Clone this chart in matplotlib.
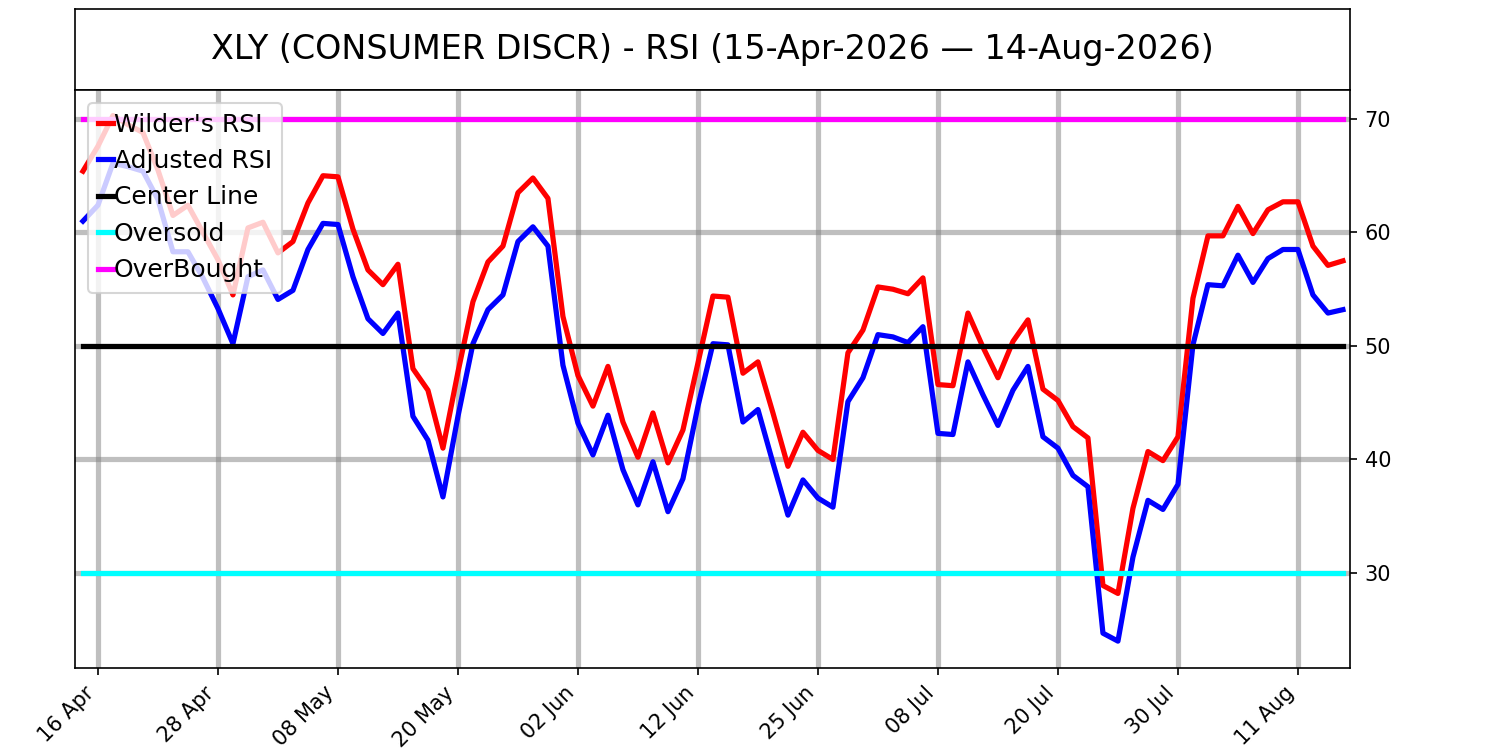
import numpy as np
import pandas as pd
import matplotlib
matplotlib.use("Agg")
import matplotlib.pyplot as plt

title = "XLY (CONSUMER DISCR) - RSI (15-Apr-2026 \u2014 14-Aug-2026)"

# trading days 15-Apr-2026 .. 14-Aug-2026 (NYSE holidays removed)
holidays = ["2026-05-25", "2026-06-19", "2026-07-03"]
dates = pd.bdate_range("2026-04-15", "2026-08-14", freq="C", holidays=holidays)

wilder_rsi = [
    65.4, 67.6, 70.3, 69.5, 68.8, 65.5, 61.5, 62.4, 60.0, 57.6,
    54.5, 60.4, 60.9, 58.2, 59.2, 62.6, 65.0, 64.9, 60.3, 56.7,
    55.4, 57.2, 48.0, 46.1, 41.0, 47.7, 53.9, 57.4, 58.8, 63.5,
    64.8, 63.0, 52.6, 47.4, 44.7, 48.2, 43.3, 40.2, 44.1, 39.7,
    42.6, 48.5, 54.4, 54.3, 47.6, 48.6, 44.1, 39.4, 42.4, 40.8,
    40.0, 49.4, 51.4, 55.2, 55.0, 54.6, 56.0, 46.6, 46.5, 52.9,
    49.9, 47.2, 50.4, 52.3, 46.2, 45.2, 42.9, 41.9, 28.9, 28.2,
    35.7, 40.7, 39.9, 42.0, 54.2, 59.7, 59.7, 62.3, 59.9, 62.0,
    62.7, 62.7, 58.8, 57.1, 57.5,
]

adjusted_rsi = [
    61.0, 62.4, 66.1, 65.8, 65.4, 62.9, 58.3, 58.3, 56.0, 53.3,
    50.2, 56.1, 56.7, 54.1, 54.9, 58.5, 60.8, 60.7, 56.1, 52.4,
    51.1, 52.9, 43.8, 41.7, 36.7, 43.8, 50.2, 53.2, 54.5, 59.2,
    60.5, 58.8, 48.3, 43.2, 40.4, 43.9, 39.1, 36.0, 39.8, 35.4,
    38.3, 44.7, 50.2, 50.1, 43.3, 44.4, 39.7, 35.1, 38.2, 36.6,
    35.8, 45.1, 47.2, 51.0, 50.8, 50.3, 51.7, 42.3, 42.2, 48.6,
    45.7, 43.0, 46.1, 48.2, 42.0, 41.0, 38.6, 37.6, 24.7, 24.0,
    31.4, 36.4, 35.6, 37.8, 50.1, 55.4, 55.3, 58.0, 55.6, 57.7,
    58.5, 58.5, 54.5, 52.9, 53.2,
]

center_level = 50
oversold_level = 30
overbought_level = 70
y_ticks = [30, 40, 50, 60, 70]

x = np.arange(len(dates))
n = len(x)

fig = plt.figure(figsize=(10, 5), dpi=150)
ax_title = fig.add_axes([0.05, 0.88, 0.85, 0.108])
ax = fig.add_axes([0.05, 0.1093, 0.85, 0.7707])

ax_title.set_xticks([])
ax_title.set_yticks([])
ax_title.text(0.5, 0.5, title, ha="center", va="center", fontsize=16,
              transform=ax_title.transAxes)

ax.plot(x, wilder_rsi, color="red", lw=2.5, label="Wilder's RSI")
ax.plot(x, adjusted_rsi, color="blue", lw=2.5, label="Adjusted RSI")
ax.plot(x, [center_level] * n, color="black", lw=2.5, label="Center Line")
ax.plot(x, [oversold_level] * n, color="cyan", lw=2.5, label="Oversold")
ax.plot(x, [overbought_level] * n, color="magenta", lw=2.5, label="OverBought")

tick_idx = x[1::8]
ax.set_xticks(tick_idx)
ax.set_xticklabels([dates[i].strftime("%d %b") for i in tick_idx],
                   rotation=45, ha="right")
ax.set_xlim(-0.53, n - 1 + 0.47)
ax.set_ylim(21.63, 72.55)
ax.set_yticks(y_ticks)
ax.yaxis.tick_right()
ax.grid(True, color="gray", alpha=0.5, lw=2.5)
ax.set_axisbelow(True)

ax.legend(loc="upper left", fontsize=12, handlelength=0.6,
          handletextpad=0.05, borderpad=0.4, labelspacing=0.5)

fig.savefig("out.png", dpi=150)
